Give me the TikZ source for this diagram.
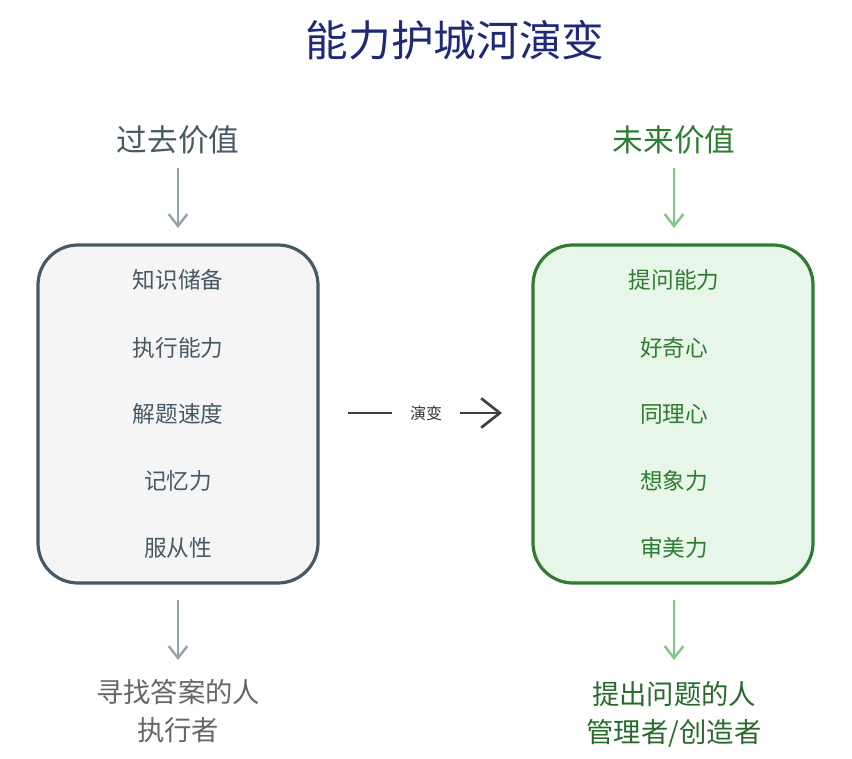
\documentclass[tikz,border=0pt]{standalone}
\usepackage{fontspec}
\setmainfont{Noto Sans CJK SC}
\usetikzlibrary{arrows.meta}
\definecolor{navy}{HTML}{1E2A78}
\definecolor{slate}{HTML}{455A64}
\definecolor{lgrey}{HTML}{90A4AE}
\definecolor{dgreen}{HTML}{2E7D32}
\definecolor{lgreen}{HTML}{81C784}
\definecolor{pgreen}{HTML}{E8F5E9}
\begin{document}
\begin{tikzpicture}[x=0.75pt,y=-0.75pt,
 item/.style={font=\fontsize{17}{20}\selectfont},
 head/.style={font=\fontsize{23}{26}\selectfont},
 bot/.style={font=\fontsize{20.5}{28.5}\selectfont,align=center},
 garrow/.style={line width=1.8pt,-{Straight Barb[length=9pt,width=14pt]}},
 box/.style={rounded corners=30pt,line width=2.4pt,minimum width=210pt,minimum height=253.5pt}]
\useasboundingbox (0,0) rectangle (852,759);
\node[font=\fontsize{32}{36}\selectfont,text=navy] (title) at (455,40) {能力护城河演变};
% left
\node[head,text=slate] (lh) at (178,140) {过去价值};
\node[box,draw=slate,fill=black!4] (lb) at (178,414) {};
\node[item,text=slate] (l1) at (178,280) {知识储备};
\node[item,text=slate] (l2) at (178,348) {执行能力};
\node[item,text=slate] (l3) at (178,414) {解题速度};
\node[item,text=slate] (l4) at (178,481) {记忆力};
\node[item,text=slate] (l5) at (178,548) {服从性};
\coordinate (la1) at (178,168); \coordinate (la2) at (178,228);
\draw[garrow,draw=lgrey] (la1) -- (la2);
\coordinate (lb1) at (178,600); \coordinate (lb2) at (178,660);
\draw[garrow,draw=lgrey] (lb1) -- (lb2);
\node[bot,text=black!60] (lt) at (178,711) {寻找答案的人\\执行者};
% right
\node[head,text=dgreen] (rh) at (674,140) {未来价值};
\node[box,draw=dgreen,fill=pgreen] (rb) at (673,414) {};
\node[item,text=dgreen] (r1) at (674,280) {提问能力};
\node[item,text=dgreen] (r2) at (674,348) {好奇心};
\node[item,text=dgreen] (r3) at (674,414) {同理心};
\node[item,text=dgreen] (r4) at (674,481) {想象力};
\node[item,text=dgreen] (r5) at (674,548) {审美力};
\coordinate (ra1) at (674,168); \coordinate (ra2) at (674,228);
\draw[garrow,draw=lgreen] (ra1) -- (ra2);
\coordinate (rb1) at (674,600); \coordinate (rb2) at (674,660);
\draw[garrow,draw=lgreen] (rb1) -- (rb2);
\node[bot,text=dgreen!85!black] (rt) at (674,714) {提出问题的人\\管理者/创造者};
% middle
\node[font=\fontsize{12}{14}\selectfont,text=black!80] (mid) at (426,413) {演变};
\coordinate (m1) at (348,413); \coordinate (m2) at (392,413);
\draw[line width=2pt,black!75] (m1) -- (m2);
\coordinate (m3) at (460,413); \coordinate (m4) at (502,413);
\draw[line width=2pt,black!75,-{Straight Barb[length=14pt,width=22pt]}] (m3) -- (m4);
\end{tikzpicture}
\end{document}
